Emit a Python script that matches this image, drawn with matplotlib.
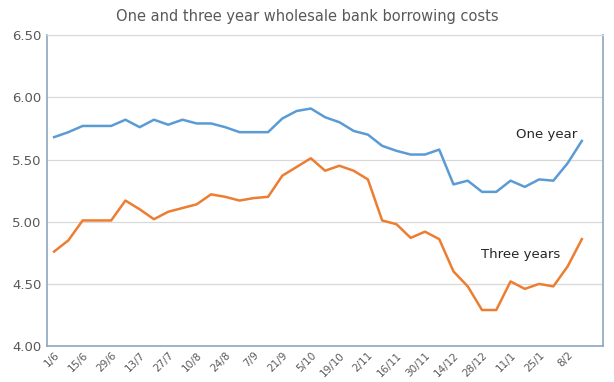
import matplotlib
matplotlib.use("Agg")
import matplotlib.pyplot as plt
import numpy as np

# weekly dates (day/month)
dates = ["1/6", "8/6", "15/6", "22/6", "29/6", "6/7", "13/7", "20/7", "27/7", "3/8",
         "10/8", "17/8", "24/8", "31/8", "7/9", "14/9", "21/9", "28/9", "5/10", "12/10",
         "19/10", "26/10", "2/11", "9/11", "16/11", "23/11", "30/11", "7/12", "14/12", "21/12",
         "28/12", "4/1", "11/1", "18/1", "25/1", "1/2", "8/2", "15/2"]

one_year = [5.68, 5.72, 5.77, 5.77, 5.77, 5.82, 5.76, 5.82, 5.78, 5.82,
            5.79, 5.79, 5.76, 5.72, 5.72, 5.72, 5.83, 5.89, 5.91, 5.84,
            5.80, 5.73, 5.70, 5.61, 5.57, 5.54, 5.54, 5.58, 5.30, 5.33,
            5.24, 5.24, 5.33, 5.28, 5.34, 5.33, 5.47, 5.65]

three_years = [4.76, 4.85, 5.01, 5.01, 5.01, 5.17, 5.10, 5.02, 5.08, 5.11,
               5.14, 5.22, 5.20, 5.17, 5.19, 5.20, 5.37, 5.44, 5.51, 5.41,
               5.45, 5.41, 5.34, 5.01, 4.98, 4.87, 4.92, 4.86, 4.60, 4.48,
               4.29, 4.29, 4.52, 4.46, 4.50, 4.48, 4.64, 4.86]

yticks = [4.00, 4.50, 5.00, 5.50, 6.00, 6.50]

fig = plt.figure(figsize=(6.14, 3.82), dpi=100)
ax = fig.add_axes([0.0765, 0.094, 0.906, 0.814])

x = np.arange(len(dates))
ax.plot(x, one_year, color="#5B9BD5", linewidth=1.8)
ax.plot(x, three_years, color="#ED7D31", linewidth=1.8)

ax.set_xlim(-0.5, len(dates) + 0.5)
ax.set_ylim(4.0, 6.5)
ax.set_yticks(yticks)
ax.set_yticklabels(["%.2f" % v for v in yticks], color="#595959", fontsize=9.5)
ax.set_xticks(x[::2])
ax.set_xticklabels(dates[::2], rotation=45, ha="right", va="top",
                   rotation_mode="anchor", color="#595959", fontsize=7.5)
ax.tick_params(axis="both", length=0, pad=4)
ax.tick_params(axis="x", pad=3)

ax.grid(axis="y", color="#D9D9D9", linewidth=0.9)
ax.set_axisbelow(True)
for side in ["left", "bottom", "right"]:
    ax.spines[side].set_color("#8FA6BD")
    ax.spines[side].set_linewidth(1.2)
ax.spines["top"].set_color("#D9D9D9")

ax.text(32.4, 5.70, "One year", fontsize=9.5, color="#262626", va="center")
ax.text(29.9, 4.74, "Three years", fontsize=9.5, color="#262626", va="center")

fig.text(0.5, 0.958, "One and three year wholesale bank borrowing costs",
         ha="center", va="center", fontsize=10.5, color="#595959")

fig.savefig("out.png", dpi=100)
